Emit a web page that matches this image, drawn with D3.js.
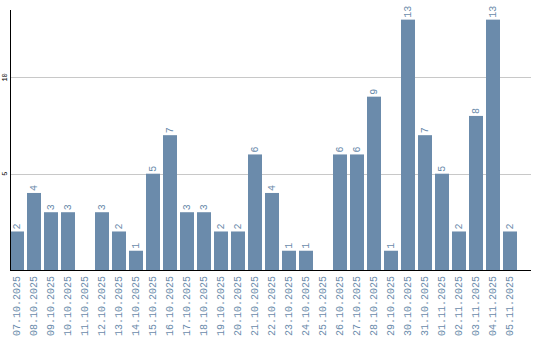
<!DOCTYPE html>
<html>
<head>
<meta charset="utf-8">
<script src="https://cdn.jsdelivr.net/npm/d3@7/dist/d3.min.js"></script>
<style>
  body { margin: 0; background: #fff; }
  svg { display: block; }
</style>
</head>
<body>
<script>
// data
const days = ['07.10.2025', '08.10.2025', '09.10.2025', '10.10.2025', '11.10.2025', '12.10.2025',
  '13.10.2025', '14.10.2025', '15.10.2025', '16.10.2025', '17.10.2025', '18.10.2025',
  '19.10.2025', '20.10.2025', '21.10.2025', '22.10.2025', '23.10.2025', '24.10.2025',
  '25.10.2025', '26.10.2025', '27.10.2025', '28.10.2025', '29.10.2025', '30.10.2025',
  '31.10.2025', '01.11.2025', '02.11.2025', '03.11.2025', '04.11.2025', '05.11.2025']
const counts = [2, 4, 3, 3, 0, 3, 2, 1, 5, 7, 3, 3, 2, 2, 6, 4, 1, 1, 0, 6, 6, 9, 1, 13, 7, 5, 2, 8, 13, 2]
const yTicks = [5, 10]

const W = 540, H = 340
const barColor = '#6b8bab'
const font = 'Liberation Mono, monospace'

const svg = d3.select('body').append('svg')
  .attr('width', W)
  .attr('height', H)

const data = days.map((d, i) => ({ day: d, value: counts[i] }))

const x = d3.scaleBand()
  .domain(days)
  .range([10, 517])
  .paddingInner(0.18)
  .paddingOuter(0)
  .align(0)

const y = d3.scaleLinear()
  .domain([0, 13.5])
  .range([270, 10])

// gridlines
svg.append('g')
  .selectAll('line')
  .data(yTicks)
  .join('line')
  .attr('x1', 10)
  .attr('x2', 531)
  .attr('y1', d => Math.round(y(d)) + 0.5)
  .attr('y2', d => Math.round(y(d)) + 0.5)
  .attr('stroke', '#c8c8c8')
  .attr('stroke-width', 1)

// bars
svg.append('g')
  .selectAll('rect')
  .data(data)
  .join('rect')
  .attr('x', d => Math.round(x(d.day)))
  .attr('width', Math.round(x.bandwidth()))
  .attr('y', d => y(d.value))
  .attr('height', d => y(0) - y(d.value))
  .attr('fill', barColor)

// value labels
svg.append('g')
  .selectAll('text')
  .data(data.filter(d => d.value > 0))
  .join('text')
  .attr('transform', d => `translate(${x(d.day) + x.bandwidth() / 2 + 3},${y(d.value) - 2}) rotate(-90)`)
  .attr('text-anchor', 'start')
  .attr('font-family', font)
  .attr('font-size', 10)
  .attr('fill', barColor)
  .text(d => d.value)

// y axis line
svg.append('line')
  .attr('x1', 10.5).attr('x2', 10.5)
  .attr('y1', 10).attr('y2', 270)
  .attr('stroke', '#000')

// y tick labels
svg.append('g')
  .selectAll('text')
  .data(yTicks)
  .join('text')
  .attr('transform', d => `translate(7,${y(d)}) rotate(-90)`)
  .attr('text-anchor', 'middle')
  .attr('font-family', font)
  .attr('font-size', 7)
  .attr('fill', '#000')
  .text(d => d)

// baseline
svg.append('line')
  .attr('x1', 10).attr('x2', 531)
  .attr('y1', 270.5).attr('y2', 270.5)
  .attr('stroke', '#000')

// x tick labels
svg.append('g')
  .selectAll('text')
  .data(days)
  .join('text')
  .attr('transform', d => `translate(${x(d) + x.bandwidth() / 2 + 3},276) rotate(-90)`)
  .attr('text-anchor', 'end')
  .attr('font-family', font)
  .attr('font-size', 10)
  .attr('fill', barColor)
  .text(d => d)
</script>
</body>
</html>
